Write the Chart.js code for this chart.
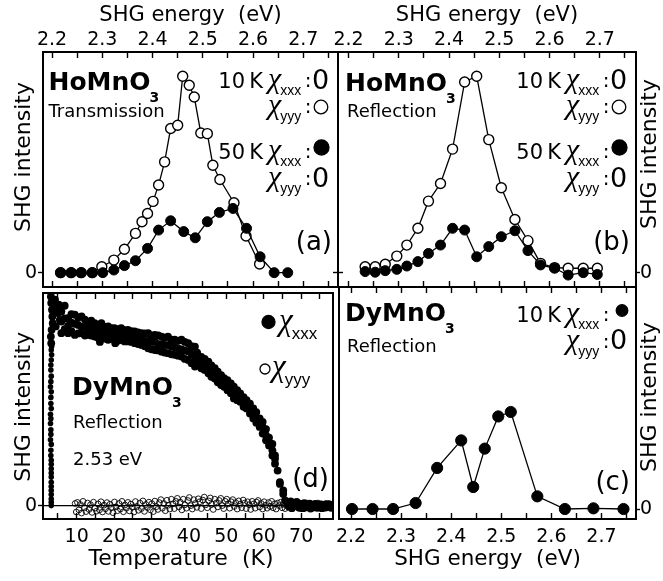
<!DOCTYPE html>
<html>
<head>
<meta charset="utf-8">
<script src="https://cdn.jsdelivr.net/npm/chart.js@4.4.1/dist/chart.umd.min.js"></script>
<style>
  html, body { margin: 0; padding: 0; background: #fff; }
  #page { position: relative; width: 663px; height: 581px; }
  #page canvas { position: absolute; left: 0; top: 0; }
</style>
</head>
<body>
<div id="page">
  <canvas id="panel-a" width="663" height="581"></canvas>
  <canvas id="panel-b" width="663" height="581"></canvas>
  <canvas id="panel-c" width="663" height="581"></canvas>
  <canvas id="panel-d" width="663" height="581"></canvas>
</div>
<script>
// ticks
const energyTicks = [2.2, 2.25, 2.3, 2.35, 2.4, 2.45, 2.5, 2.55, 2.6, 2.65, 2.7, 2.75];
const energyTickLabels = ['2.2', '', '2.3', '', '2.4', '', '2.5', '', '2.6', '', '2.7', ''];
const tempTicks = [5, 10, 15, 20, 25, 30, 35, 40, 45, 50, 55, 60, 65, 70, 75];
const tempTickLabels = ['', '10', '', '20', '', '30', '', '40', '', '50', '', '60', '', '70', ''];
const intensityTicks = [0];
const intensityTickLabels = ['0'];

// (a) HoMnO3 transmission
const aEnergyFilled = [2.217, 2.238, 2.258, 2.280, 2.301, 2.323, 2.344, 2.366, 2.390, 2.412, 2.436, 2.462, 2.485, 2.509, 2.533, 2.560, 2.587, 2.614, 2.642, 2.669];
const a50kXxx = [0, 0, 0, 0, 0, 0.012, 0.032, 0.054, 0.110, 0.193, 0.235, 0.186, 0.158, 0.231, 0.273, 0.291, 0.201, 0.072, 0, 0];
const aEnergyOpen = [2.217, 2.238, 2.258, 2.280, 2.299, 2.323, 2.344, 2.366, 2.379, 2.390, 2.401, 2.412, 2.424, 2.436, 2.450, 2.460, 2.473, 2.483, 2.496, 2.509, 2.520, 2.534, 2.562, 2.586, 2.613];
const a10kYyy = [0, 0, 0, 0, 0.027, 0.057, 0.106, 0.178, 0.231, 0.268, 0.323, 0.397, 0.502, 0.653, 0.668, 0.890, 0.849, 0.796, 0.633, 0.630, 0.487, 0.422, 0.317, 0.166, 0.039];

// (b) HoMnO3 reflection
const bEnergy = [2.233, 2.253, 2.273, 2.296, 2.316, 2.338, 2.359, 2.383, 2.407, 2.431, 2.455, 2.479, 2.504, 2.531, 2.557, 2.582, 2.610, 2.637, 2.667, 2.695];
const b10kYyy = [0.027, 0.027, 0.038, 0.075, 0.125, 0.201, 0.324, 0.404, 0.560, 0.864, 0.890, 0.603, 0.385, 0.241, 0.145, 0.042, 0.023, 0.020, 0.020, 0.020];
const b50kXxx = [0.005, 0.002, 0.009, 0.015, 0.030, 0.050, 0.087, 0.125, 0.201, 0.193, 0.072, 0.118, 0.163, 0.190, 0.100, 0.035, 0.020, -0.011, 0, -0.008];

// (c) DyMnO3 reflection
const cEnergy = [2.202, 2.243, 2.284, 2.329, 2.372, 2.420, 2.444, 2.467, 2.494, 2.519, 2.572, 2.627, 2.684, 2.744];
const c10kXxx = [0, 0, 0, 0.027, 0.185, 0.309, 0.099, 0.272, 0.417, 0.437, 0.057, 0, 0.003, 0];

// (d) DyMnO3 temperature scans at 2.53 eV, [T (K), intensity]
const dRisePoints = [[3.2,0],[3.2,0.016],[3.2,0.031],[3.2,0.052],[3.2,0.071],[3.2,0.09],[3.2,0.11],[3.2,0.134],[3.2,0.153],[3.2,0.173],[3.2,0.194],[3.2,0.213],[3.1,0.236],[3.1,0.26],[3.2,0.288],[3.0,0.31],[3.1,0.335],[3.1,0.357],[3.0,0.386],[3.1,0.409],[3.0,0.43],[3.2,0.457],[3.1,0.48],[3.1,0.509],[3.2,0.535],[3.0,0.559],[3.1,0.583],[3.2,0.609],[3.1,0.638],[3.1,0.661],[3.2,0.685],[3.3,0.709],[3.2,0.732],[3.3,0.748]];
const dXxxPoints = [
  [3.1,0.984],[3.2,0.953],[3.4,0.921],[3.5,0.89],[3.6,0.858],[3.3,0.827],[3.1,0.795],[3.2,0.764],[4.2,0.969],[4.6,0.937],[5.0,0.906],[4.4,0.843],[5.2,0.945],[5.5,0.874],
  [5.9,0.913],[5.9,0.866],[5.9,0.811],[6.8,0.94],[6.8,0.88],[6.8,0.83],[7.7,0.882],[7.7,0.845],[7.7,0.811],[8.6,0.90],[8.6,0.86],[8.6,0.82],
  [9.5,0.898],[9.5,0.855],[9.5,0.803],[10.4,0.885],[10.4,0.85],[10.4,0.81],[11.3,0.89],[11.3,0.84],[11.3,0.811],[12.2,0.875],[12.2,0.845],[12.2,0.80],
  [13.0,0.858],[13.0,0.83],[13.0,0.803],[13.9,0.87],[13.9,0.835],[13.9,0.80],[14.8,0.858],[14.8,0.825],[14.8,0.795],[15.7,0.85],[15.7,0.82],[15.7,0.79],
  [16.2,0.77],[16.6,0.858],[16.6,0.82],[16.6,0.795],[17.5,0.84],[17.5,0.81],[17.5,0.785],[18.4,0.843],[18.4,0.81],[18.4,0.78],[19.3,0.835],[19.3,0.80],[19.3,0.785],
  [20.1,0.835],[20.1,0.81],[20.1,0.78],[20.3,0.764],[21.0,0.83],[21.0,0.805],[21.0,0.775],[21.9,0.835],[21.9,0.80],[21.9,0.78],[22.8,0.825],[22.8,0.80],[22.8,0.772],
  [23.7,0.827],[23.7,0.795],[23.7,0.772],[24.6,0.82],[24.6,0.79],[24.6,0.77],[25.5,0.819],[25.5,0.79],[25.5,0.764],[26.4,0.815],[26.4,0.785],[26.4,0.76],
  [27.3,0.811],[27.3,0.78],[27.3,0.756],[28.2,0.81],[28.2,0.775],[28.2,0.75],[29.1,0.811],[29.1,0.775],[29.1,0.74],[30.0,0.80],[30.0,0.77],[30.0,0.735],
  [30.9,0.803],[30.9,0.77],[30.9,0.732],[31.8,0.80],[31.8,0.76],[31.8,0.73],[32.7,0.795],[32.7,0.76],[32.7,0.724],[33.5,0.79],[33.5,0.755],[33.5,0.72],
  [34.4,0.795],[34.4,0.755],[34.4,0.717],[35.3,0.78],[35.3,0.75],[35.3,0.712],[36.2,0.78],[36.2,0.745],[36.2,0.709],[37.1,0.775],[37.1,0.74],[37.1,0.705],
  [38.0,0.78],[38.0,0.735],[38.0,0.701],[38.9,0.77],[38.9,0.73],[38.9,0.69],[39.8,0.764],[39.8,0.725],[39.8,0.685],[40.7,0.75],[40.7,0.715],[40.7,0.67],
  [41.6,0.748],[41.6,0.70],[41.6,0.654],[42.2,0.72],[42.2,0.69],[42.2,0.665],[43.3,0.70],[43.3,0.677],[43.3,0.646],[44.2,0.69],[44.2,0.661],[44.2,0.638],
  [45.2,0.677],[45.2,0.646],[45.2,0.622],[46.0,0.66],[46.0,0.638],[46.0,0.606],[46.9,0.646],[46.9,0.622],[46.9,0.598],[47.7,0.63],[47.7,0.606],[47.7,0.58],
  [48.6,0.614],[48.6,0.59],[48.6,0.567],[49.4,0.60],[49.4,0.575],[49.4,0.559],[50.3,0.59],[50.3,0.567],[50.3,0.543],[51.2,0.575],[51.2,0.55],[51.2,0.528],
  [52.0,0.56],[52.0,0.535],[52.0,0.504],[52.9,0.543],[52.9,0.52],[52.9,0.496],[53.7,0.528],[53.7,0.504],[53.7,0.488],[54.6,0.51],[54.6,0.488],[54.6,0.465],
  [55.4,0.496],[55.4,0.473],[55.4,0.457],[56.3,0.48],[56.3,0.457],[56.3,0.433],[57.2,0.457],[57.2,0.433],[57.2,0.41],[58.0,0.44],[58.0,0.41],[58.0,0.39],
  [58.9,0.41],[58.9,0.394],[58.9,0.37],[59.7,0.394],[59.7,0.37],[59.7,0.339],[60.6,0.36],[60.6,0.33],[60.6,0.307],[61.4,0.32],[61.4,0.299],[61.4,0.283],
  [62.3,0.29],[62.3,0.26],[62.3,0.236],[63.0,0.236],[63.0,0.22],[63.0,0.197],[63.7,0.165],[64.3,0.11],[64.3,0.102],[65.2,0.071],[65.2,0.055],[65.7,0.024],
  [66.3,0.01],[66.5,0.0],[66.8,-0.005],[67.2,0.02],[67.5,-0.012],[67.7,0.012],[68.2,0.005],[68.5,0.008],[68.8,0.018],[69.3,0.01],[69.5,-0.01],[69.8,-0.004],
  [70.3,0.006],[70.5,-0.012],[70.8,0.012],[71.3,-0.008],[71.5,0.0],[71.8,0.004],[72.3,0.009],[72.5,-0.014],[72.8,-0.006],[73.3,0.003],[73.5,-0.008],[73.8,0.008],
  [74.3,-0.01],[74.5,0.004],[74.8,0.002],[75.3,0.006],[75.5,-0.012],[75.8,-0.007],[76.3,0.004],[76.5,-0.009],[76.8,0.007],[77.3,-0.005],[77.5,0.005],[77.8,0.003],[78.0,-0.01],[78.3,0.001]
];
const dYyyPoints = [
  [9.6,0.01],[9.9,-0.03],[10.2,0.015],[10.6,-0.02],[11.0,0.005],[11.3,-0.035],[11.7,0.02],[12.1,-0.01],[12.5,-0.028],[12.9,0.012],[13.3,-0.018],[13.7,0.004],
  [14.1,-0.032],[14.5,0.016],[14.9,-0.012],[15.3,-0.026],[15.7,0.008],[16.1,-0.02],[16.5,0.018],[16.9,-0.03],[17.3,0.002],[17.7,-0.015],[18.1,0.014],[18.5,-0.027],
  [18.9,0.006],[19.3,-0.01],[19.7,-0.033],[20.1,0.017],[20.5,-0.006],[20.9,-0.024],[21.3,0.01],[21.7,-0.016],[22.1,0.02],[22.5,-0.029],[22.9,0.003],[23.3,-0.012],
  [23.7,0.015],[24.1,-0.025],[24.5,0.007],[24.9,-0.008],[25.3,-0.03],[25.7,0.019],[26.1,-0.004],[26.5,-0.022],[26.9,0.012],[27.3,-0.014],[27.7,0.022],[28.1,-0.027],
  [28.5,0.005],[28.9,-0.009],[29.3,0.016],[29.7,-0.02],[30.1,0.009],[30.5,-0.028],[30.9,0.021],[31.3,-0.005],[31.7,-0.018],[32.1,0.014],[32.5,0.028],[32.9,-0.012],
  [33.3,0.01],[33.7,-0.024],[34.1,0.025],[34.5,0.002],[34.9,-0.016],[35.3,0.03],[35.7,0.008],[36.1,-0.014],[36.5,0.02],[36.9,0.034],[37.3,-0.006],[37.7,0.016],
  [38.1,-0.02],[38.5,0.03],[38.9,0.004],[39.3,-0.012],[39.7,0.024],[40.1,0.038],[40.5,0.0],[40.9,-0.016],[41.3,0.028],[41.7,0.01],[42.1,-0.008],[42.5,0.032],
  [42.9,0.018],[43.3,-0.014],[43.7,0.026],[44.1,0.04],[44.5,0.004],[44.9,-0.01],[45.3,0.022],[45.7,0.036],[46.1,0.006],[46.5,-0.018],[46.9,0.03],[47.3,0.012],
  [47.7,-0.006],[48.1,0.024],[48.5,0.034],[48.9,0.0],[49.3,-0.014],[49.7,0.02],[50.1,0.03],[50.5,0.008],[50.9,-0.012],[51.3,0.018],[51.7,0.028],[52.1,-0.004],
  [52.5,0.014],[52.9,-0.016],[53.3,0.022],[53.7,0.006],[54.1,-0.01],[54.5,0.026],[54.9,0.012],[55.3,-0.014],[55.7,0.018],[56.1,0.004],[56.5,-0.018],[56.9,0.02],
  [57.3,0.008],[57.7,-0.012],[58.1,0.016],[58.5,0.024],[58.9,-0.006],[59.3,0.01],[59.7,-0.016],[60.1,0.018],[60.5,0.002],[60.9,-0.012],[61.3,0.014],[61.7,-0.004],
  [62.1,0.02],[62.5,-0.01],[62.9,0.008],[63.3,-0.016],[63.7,0.012],[64.1,0.0],[64.5,0.016],[64.9,-0.01],[65.3,0.006],[65.7,-0.014],[66.1,0.012],[66.5,-0.004],
  [67.0,0.01],[67.5,-0.012],[68.0,0.006],[68.5,0.014],[69.0,-0.008],[69.5,0.004],[70.0,-0.014],[70.5,0.01],[71.0,-0.004],[71.5,0.012],[72.0,-0.01],[72.5,0.006],
  [73.0,-0.012],[73.5,0.008],[74.0,-0.006],[74.5,0.012],[75.0,-0.01],[75.5,0.004],[76.0,-0.012],[76.5,0.008],[77.0,-0.004],[77.5,0.01],[78.0,-0.008]
];
const dZeroLine = [[1, 0], [78.5, 0]];

Chart.defaults.font.family = '"DejaVu Sans", sans-serif';
Chart.defaults.color = '#000';

function makeAxis(o) {
  return {
    type: 'linear',
    position: o.position,
    min: o.min,
    max: o.max,
    afterBuildTicks: s => { s.ticks = (o.ticks || []).map(value => ({ value })); },
    afterFit: s => {
      if (o.position === 'top' || o.position === 'bottom') s.height = o.size;
      else s.width = o.size;
    },
    border: { display: true, color: '#000', width: 2 },
    grid: { display: true, drawOnChartArea: false, drawTicks: true, tickLength: o.tickLength, tickWidth: 1.4, tickColor: '#000' },
    ticks: {
      display: !!o.labels, autoSkip: false, maxRotation: 0, minRotation: 0,
      padding: o.padding || 0, color: '#000', font: { size: 19 },
      callback: (v, i) => (o.labels ? o.labels[i] : '')
    },
    title: o.title
      ? { display: true, text: o.title, color: '#000', font: { size: o.titleSize || 21 }, padding: o.titlePadding }
      : { display: false }
  };
}

function series(xs, ys, filled, radius) {
  return {
    data: xs.map((x, i) => ({ x, y: ys[i] })),
    showLine: true,
    borderColor: '#000',
    borderWidth: 1.3,
    pointRadius: radius,
    pointBorderWidth: filled ? 1 : 1.4,
    pointBackgroundColor: filled ? '#000' : '#fff',
    pointBorderColor: '#000'
  };
}

function put(ctx, str, x, y, font, align) {
  ctx.save();
  ctx.font = font;
  ctx.fillStyle = '#000';
  ctx.textAlign = align || 'left';
  ctx.textBaseline = 'alphabetic';
  ctx.fillText(str, x, y);
  ctx.restore();
}

function textWidth(ctx, str, font) {
  ctx.save();
  ctx.font = font;
  const w = ctx.measureText(str).width;
  ctx.restore();
  return w;
}

function formula(ctx, main, sub, x, y) {
  const font = 'bold 25px "DejaVu Sans"';
  put(ctx, main, x, y, font);
  put(ctx, sub, x + textWidth(ctx, main, font) - 1, y + 12, 'bold 14px "DejaVu Sans"');
}

// chi with subscript
function chi(ctx, x, b, sub, size, subSize) {
  const font = 'italic ' + size + 'px "Liberation Serif"';
  put(ctx, 'χ', x, b, font);
  const sx = x + textWidth(ctx, 'χ', font) - 1;
  put(ctx, sub, sx, b + Math.round(subSize * 0.5), subSize + 'px "Liberation Sans"');
}

function dot(ctx, x, y, r, filled) {
  ctx.save();
  ctx.beginPath();
  ctx.arc(x, y, r, 0, Math.PI * 2);
  ctx.fillStyle = filled ? '#000' : '#fff';
  ctx.fill();
  ctx.lineWidth = 1.3;
  ctx.strokeStyle = '#000';
  ctx.stroke();
  ctx.restore();
}

function legendRow(ctx, R, b, prefix, sub) {
  if (prefix) put(ctx, prefix, R - 75, b, '21px "DejaVu Sans"', 'right');
  chi(ctx, R - 70, b, sub, 30, 14);
  put(ctx, ':', R - 30, b - 1, '20px "DejaVu Sans"', 'center');
}

function zeroMark(ctx, x, b) {
  put(ctx, '0', x, b, '27px "DejaVu Sans"', 'center');
}

function yTitle(ctx, x, y) {
  ctx.save();
  ctx.translate(x, y);
  ctx.rotate(-Math.PI / 2);
  ctx.font = '22px "DejaVu Sans"';
  ctx.fillStyle = '#000';
  ctx.textAlign = 'center';
  ctx.textBaseline = 'middle';
  ctx.fillText('SHG intensity', 0, 0);
  ctx.restore();
}

function makePanel(id, padding, scales, datasets, drawText) {
  return new Chart(document.getElementById(id), {
    type: 'scatter',
    data: { datasets },
    options: {
      responsive: false,
      animation: false,
      devicePixelRatio: 1,
      events: [],
      layout: { padding },
      scales,
      plugins: { legend: { display: false }, tooltip: { enabled: false } }
    },
    plugins: [{ id: 'text-' + id, afterDraw: chart => drawText(chart.ctx, chart.chartArea) }]
  });
}

// (a)
makePanel('panel-a', { left: 0, top: 0, right: 325, bottom: 294 }, {
  x: makeAxis({ position: 'top', min: 2.182, max: 2.769, size: 52, ticks: energyTicks, labels: energyTickLabels, tickLength: -6, padding: 7, title: 'SHG energy  (eV)', titlePadding: { top: 3, bottom: 0 } }),
  xb: makeAxis({ position: 'bottom', min: 2.182, max: 2.769, size: 0, ticks: energyTicks, tickLength: -6 }),
  y: makeAxis({ position: 'left', min: -0.065, max: 1, size: 43, ticks: intensityTicks, labels: intensityTickLabels, tickLength: 5, padding: 1 }),
  yr: makeAxis({ position: 'right', min: -0.065, max: 1, size: 0, ticks: intensityTicks, tickLength: 5 })
}, [
  series(aEnergyFilled, a50kXxx, true, 5),
  series(aEnergyOpen, a10kYyy, false, 5)
], (ctx, { left: L, top: T, right: R }) => {
  formula(ctx, 'HoMnO', '3', L + 5.5, T + 38);
  put(ctx, 'Transmission', L + 5.5, T + 64.5, '18px "DejaVu Sans"');
  legendRow(ctx, R, T + 36, '10\u2009K', 'xxx'); zeroMark(ctx, R - 17.5, T + 36.5);
  legendRow(ctx, R, T + 62, '', 'yyy'); dot(ctx, R - 17, T + 55, 6.8, false);
  legendRow(ctx, R, T + 107, '50\u2009K', 'xxx'); dot(ctx, R - 16.5, T + 95.5, 7.5, true);
  legendRow(ctx, R, T + 134, '', 'yyy'); zeroMark(ctx, R - 17.5, T + 134.5);
  put(ctx, '(a)', R - 6, T + 197.5, '26px "DejaVu Sans"', 'right');
  yTitle(ctx, 24.5, 157);
});

// (b)
makePanel('panel-b', { left: 338, top: 0, right: 0, bottom: 294 }, {
  x: makeAxis({ position: 'top', min: 2.179, max: 2.772, size: 52, ticks: energyTicks, labels: energyTickLabels, tickLength: -6, padding: 7, title: 'SHG energy  (eV)', titlePadding: { top: 3, bottom: 0 } }),
  xb: makeAxis({ position: 'bottom', min: 2.179, max: 2.772, size: 0, ticks: energyTicks, tickLength: -6 }),
  y: makeAxis({ position: 'left', min: -0.065, max: 1, size: 0, ticks: intensityTicks, tickLength: 5 }),
  yr: makeAxis({ position: 'right', min: -0.065, max: 1, size: 27, ticks: intensityTicks, labels: intensityTickLabels, tickLength: 4, padding: 0 })
}, [
  series(bEnergy, b50kXxx, true, 5),
  series(bEnergy, b10kYyy, false, 5)
], (ctx, { left: L, top: T, right: R }) => {
  formula(ctx, 'HoMnO', '3', L + 7, T + 38.5);
  put(ctx, 'Reflection', L + 9, T + 64.5, '18px "DejaVu Sans"');
  legendRow(ctx, R, T + 36, '10\u2009K', 'xxx'); zeroMark(ctx, R - 17.5, T + 36.5);
  legendRow(ctx, R, T + 62, '', 'yyy'); dot(ctx, R - 17, T + 55, 6.8, false);
  legendRow(ctx, R, T + 107, '50\u2009K', 'xxx'); dot(ctx, R - 16.5, T + 95.5, 7.5, true);
  legendRow(ctx, R, T + 134, '', 'yyy'); zeroMark(ctx, R - 17.5, T + 134.5);
  put(ctx, '(b)', R - 6, T + 197.5, '26px "DejaVu Sans"', 'right');
  yTitle(ctx, 650.5, 154);
});

// (c)
makePanel('panel-c', { left: 339, top: 287, right: 0, bottom: 0 }, {
  x: makeAxis({ position: 'bottom', min: 2.176, max: 2.769, size: 62, ticks: energyTicks, labels: energyTickLabels, tickLength: -6, padding: 13, title: 'SHG energy  (eV)', titleSize: 21.5, titlePadding: { top: 0, bottom: 9 } }),
  xt: makeAxis({ position: 'top', min: 2.176, max: 2.769, size: 0, ticks: energyTicks, tickLength: -6 }),
  y: makeAxis({ position: 'left', min: -0.045, max: 1, size: 0, ticks: [], tickLength: 5 }),
  yr: makeAxis({ position: 'right', min: -0.045, max: 1, size: 27, ticks: intensityTicks, labels: intensityTickLabels, tickLength: 4, padding: 0 })
}, [
  series(cEnergy, c10kXxx, true, 5.6)
], (ctx, { left: L, top: T, right: R }) => {
  formula(ctx, 'DyMnO', '3', L + 6, T + 34);
  put(ctx, 'Reflection', L + 8, T + 64.5, '18px "DejaVu Sans"');
  legendRow(ctx, R, T + 34.5, '10\u2009K', 'xxx'); dot(ctx, R - 14, T + 23.5, 5.8, true);
  legendRow(ctx, R, T + 61.5, '', 'yyy'); zeroMark(ctx, R - 17.5, T + 62);
  put(ctx, '(c)', R - 6, T + 203, '26px "DejaVu Sans"', 'right');
  yTitle(ctx, 650.5, 397);
});

// (d)
makePanel('panel-d', { left: 0, top: 293, right: 330, bottom: 0 }, {
  x: makeAxis({ position: 'bottom', min: 1, max: 78.5, size: 62, ticks: tempTicks, labels: tempTickLabels, tickLength: -6, padding: 13, title: 'Temperature  (K)  ', titleSize: 22, titlePadding: { top: 0, bottom: 9 } }),
  xt: makeAxis({ position: 'top', min: 1, max: 78.5, size: 0, ticks: tempTicks, tickLength: -6 }),
  y: makeAxis({ position: 'left', min: -0.063, max: 1, size: 43, ticks: intensityTicks, labels: intensityTickLabels, tickLength: 5, padding: 1 }),
  yr: makeAxis({ position: 'right', min: -0.063, max: 1, size: 0, ticks: [], tickLength: 5 })
}, [
  {
    data: dXxxPoints.map(([x, y]) => ({ x, y })),
    showLine: false, pointRadius: 3.9, pointBorderWidth: 0,
    pointBackgroundColor: '#000', pointBorderColor: '#000'
  },
  {
    data: dRisePoints.map(([x, y]) => ({ x, y })),
    showLine: false, pointRadius: 2.8, pointBorderWidth: 0,
    pointBackgroundColor: '#000', pointBorderColor: '#000'
  },
  {
    data: dYyyPoints.map(([x, y]) => ({ x, y })),
    showLine: false, pointRadius: 2.9, pointBorderWidth: 0.9,
    pointBackgroundColor: 'rgba(0,0,0,0)', pointBorderColor: '#000'
  },
  {
    data: dZeroLine.map(([x, y]) => ({ x, y })),
    showLine: true, pointRadius: 0, borderWidth: 1.3, borderColor: '#000'
  }
], (ctx, { left: L, top: T, right: R }) => {
  formula(ctx, 'DyMnO', '3', L + 29, T + 102);
  put(ctx, 'Reflection', L + 30, T + 135, '18px "DejaVu Sans"');
  put(ctx, '2.53 eV', L + 30, T + 172, '18px "DejaVu Sans"');
  put(ctx, '(d)', R - 4, T + 194, '26px "DejaVu Sans"', 'right');
  dot(ctx, R - 64.5, T + 29, 6.5, true);
  chi(ctx, R - 54, T + 37, 'xxx', 31, 17);
  dot(ctx, R - 68, T + 76, 5, false);
  chi(ctx, R - 61, T + 83, 'yyy', 31, 17);
  yTitle(ctx, 24.5, 406.7);
});
</script>
</body>
</html>
